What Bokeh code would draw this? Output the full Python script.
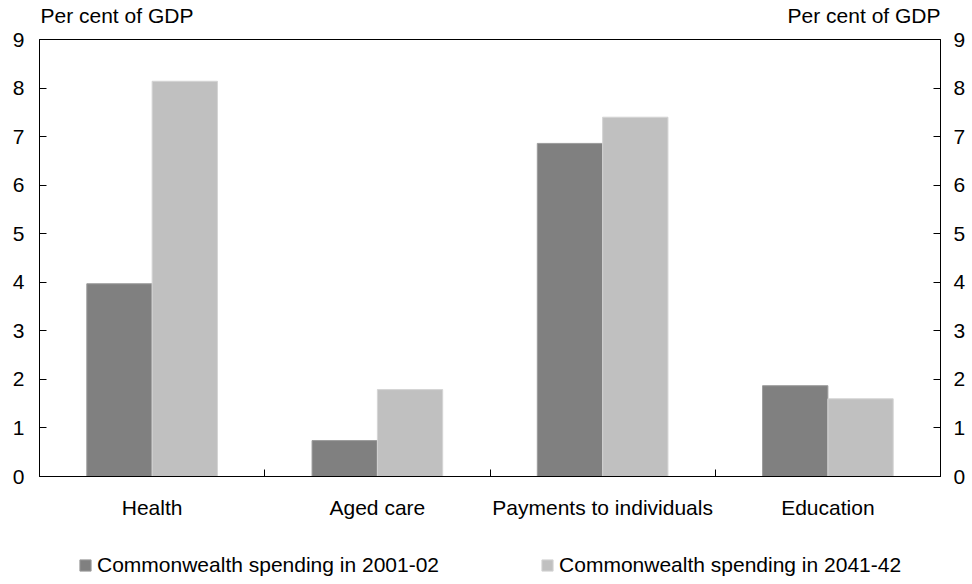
from bokeh.plotting import figure
from bokeh.models import (ColumnDataSource, FixedTicker, LinearAxis, Range1d,
                          Legend, LegendItem, Label)
from bokeh.layouts import column
from bokeh.embed import file_html
from bokeh.resources import INLINE

# ---- data ----
categories = ["Health", "Aged care", "Payments to individuals", "Education"]
spending_2001 = [3.97, 0.74, 6.86, 1.87]
spending_2041 = [8.14, 1.79, 7.40, 1.60]
series_names = ["Commonwealth spending in 2001-02", "Commonwealth spending in 2041-42"]
y_ticks = [0, 1, 2, 3, 4, 5, 6, 7, 8, 9]
unit_label = "Per cent of GDP"

FONT = "Liberation Sans"
FS = "21px"
DARK = "#808080"
LIGHT = "#c0c0c0"
DARK_EDGE = "#9c9c9c"
LIGHT_EDGE = "#d4d4d4"
BAR_W = 0.29
W = 972
TOP_H = 27
LEG_H = 54
MAIN_H = 584 - TOP_H - LEG_H
BL, BR = 39, 32

n = len(categories)
x_rng = Range1d(0, n)


def strip(height):
    f = figure(width=W, height=height, output_backend="svg", toolbar_location=None,
               x_range=x_rng, y_range=Range1d(0, height),
               x_axis_type=None, y_axis_type=None,
               min_border_left=BL, min_border_right=BR,
               min_border_top=0, min_border_bottom=0)
    f.xgrid.visible = False
    f.ygrid.visible = False
    f.outline_line_color = None
    f.background_fill_color = "white"
    f.border_fill_color = "white"
    return f


# ---- top strip with unit labels ----
top = strip(TOP_H)
top.add_layout(Label(x=0, y=12, x_offset=1, text=unit_label, text_align="left",
                     text_baseline="middle", text_font=FONT,
                     text_font_size=FS, text_color="black"))
top.add_layout(Label(x=n, y=12, x_offset=0, text=unit_label, text_align="right",
                     text_baseline="middle", text_font=FONT,
                     text_font_size=FS, text_color="black"))

# ---- main chart ----
centers = [i + 0.5 for i in range(n)]
src = ColumnDataSource(dict(
    x1=[c - BAR_W / 2 for c in centers],
    x2=[c + BAR_W / 2 for c in centers],
    y1=spending_2001,
    y2=spending_2041,
))

p = figure(width=W, height=MAIN_H, output_backend="svg", toolbar_location=None,
           x_range=x_rng, y_range=Range1d(0, 9),
           x_axis_type=None, y_axis_type=None,
           min_border_left=BL, min_border_right=BR, min_border_top=12,
           min_border_bottom=54)
p.xgrid.visible = False
p.ygrid.visible = False
p.outline_line_color = "black"
p.outline_line_width = 1
p.background_fill_color = "white"
p.border_fill_color = "white"

p.vbar(x="x1", top="y1", width=BAR_W, source=src, fill_color=DARK,
       line_color=DARK_EDGE, line_width=1)
p.vbar(x="x2", top="y2", width=BAR_W, source=src, fill_color=LIGHT,
       line_color=LIGHT_EDGE, line_width=1)

xaxis = LinearAxis(ticker=FixedTicker(ticks=centers,
                                      minor_ticks=[i for i in range(1, n)]),
                   major_label_overrides={c: lab for c, lab in zip(centers, categories)})
xaxis.major_tick_line_color = None
xaxis.minor_tick_in = 7
xaxis.minor_tick_out = 0
xaxis.minor_tick_line_color = "black"
xaxis.axis_line_color = "black"
xaxis.major_label_text_font = FONT
xaxis.major_label_text_font_size = FS
xaxis.major_label_text_color = "black"
xaxis.major_label_standoff = 13
p.add_layout(xaxis, "below")

for side, standoff in (("left", 15), ("right", 13)):
    ax = LinearAxis(ticker=FixedTicker(ticks=y_ticks))
    ax.major_tick_in = 7
    ax.major_tick_out = 0
    ax.minor_tick_line_color = None
    ax.axis_line_color = "black"
    ax.major_label_text_font = FONT
    ax.major_label_text_font_size = FS
    ax.major_label_text_color = "black"
    ax.major_label_standoff = standoff
    p.add_layout(ax, side)

# ---- legend strip ----
leg = strip(LEG_H)
leg.y_range = Range1d(1, 2)
swatch = ColumnDataSource(dict(x=[0], top=[0]))
g1 = leg.vbar(x="x", top="top", width=0, source=swatch, fill_color=DARK,
              line_color=DARK_EDGE)
g2 = leg.vbar(x="x", top="top", width=0, source=swatch, fill_color=LIGHT,
              line_color=LIGHT_EDGE)
legend = Legend(items=[LegendItem(label=series_names[0], renderers=[g1]),
                       LegendItem(label=series_names[1], renderers=[g2])],
                orientation="horizontal", location=(39, 7),
                glyph_width=14, glyph_height=14, label_standoff=5, spacing=101,
                label_height=24,
                label_text_font=FONT, label_text_font_size=FS,
                label_text_color="black", border_line_color=None,
                background_fill_alpha=0, padding=0, margin=0)
leg.add_layout(legend, "center")

layout = column(top, p, leg, spacing=0)
open("out.html", "w").write(file_html(layout, INLINE))
